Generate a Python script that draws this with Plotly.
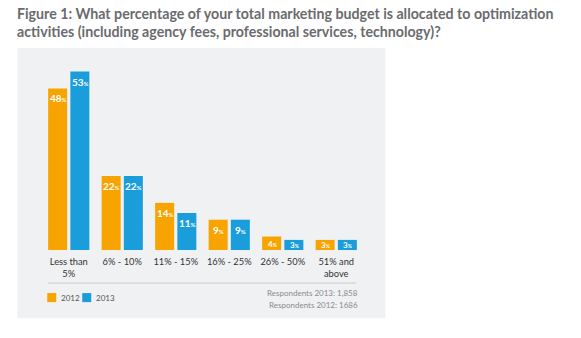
import plotly.graph_objects as go

categories = ["Less than<br>5%", "6% - 10%", "11% - 15%", "16% - 25%", "26% - 50%", "51% and<br>above"]
values_2012 = [48, 22, 14, 9, 4, 3]
values_2013 = [53, 22, 11, 9, 3, 3]
series_names = ["2012", "2013"]
colors = ["#F7A300", "#1A9EDB"]
respondents = ["Respondents 2013: 1,858", "Respondents 2012: 1686"]

W, H = 581, 338
L, R, T, B = 41.75, 218.25, 48.4, 88
pw, ph = W - L - R, H - T - B

def px(x):
    return (x - L) / pw

def py(y):
    return (H - B - y) / ph

def lbl(v, small):
    pct = 5 if small else 6
    return f"<b>{v}</b><span style='font-size:{pct}px'><b>%</b></span>"

fig = go.Figure()
for name, vals, col in zip(series_names, [values_2012, values_2013], colors):
    fig.add_trace(go.Bar(
        x=categories, y=vals, name=name, marker=dict(color=col, line=dict(width=0)),
        showlegend=False, hoverinfo="x+y",
    ))

# value labels inside bars (positioned via axis data coordinates)
offsets = [-11, 11]
for vals, dx in zip([values_2012, values_2013], offsets):
    for cat, v in zip(categories, vals):
        small = v < 5
        fig.add_annotation(
            x=cat, y=(v / 2 if small else v), xref="x", yref="y",
            xshift=dx + 0.5, yshift=(-0.5 if small else -10), showarrow=False,
            xanchor="center", yanchor="middle",
            text=lbl(v, small),
            font=dict(color="white", size=(8 if small else 10), family="Lato"),
        )

fig.update_layout(
    width=W, height=H,
    margin=dict(l=L, r=R, t=T, b=B, autoexpand=False),
    paper_bgcolor="white", plot_bgcolor="rgba(0,0,0,0)",
    barmode="group", bargap=0.17, bargroupgap=0.144,
    showlegend=False,
    font=dict(family="Lato"),
    xaxis=dict(showgrid=False, zeroline=False, showline=False, ticks="", ticklabelstandoff=5,
               tickfont=dict(size=9.3, color="#333", family="Lato")),
    yaxis=dict(range=[0, 60], visible=False, showgrid=False, zeroline=False),
)

# gray panel background
fig.add_shape(type="rect", xref="paper", yref="paper", x0=px(17), x1=px(385), y0=py(318), y1=py(48.5),
              fillcolor="#F0F1F3", line=dict(width=0), layer="below")
# separator line
fig.add_shape(type="line", xref="paper", yref="paper", x0=px(48), x1=px(356), y0=py(283), y1=py(283),
              line=dict(color="#C9CACC", width=1))

# legend (custom)
legend_x = [47, 82]
for name, col, lx in zip(series_names, colors, legend_x):
    fig.add_shape(type="rect", xref="paper", yref="paper", x0=px(lx), x1=px(lx + 9),
                  y0=py(302), y1=py(293), fillcolor=col, line=dict(width=0))
    fig.add_annotation(xref="paper", yref="paper", x=px(lx + 12), y=py(297.5), xanchor="left",
                       yanchor="middle", showarrow=False, text=name,
                       font=dict(size=8, color="#555", family="Lato"))

# title
fig.add_annotation(xref="paper", yref="paper", x=px(15), y=py(3), xanchor="left", yanchor="top",
                   align="left", showarrow=False,
                   text="<b>Figure 1: What percentage of your total marketing budget is allocated to optimization<br>activities (including agency fees, professional services, technology)?</b>",
                   font=dict(size=14.2, color="#6A6B6E", family="Lato"))
# respondents
for i, t in enumerate(respondents):
    fig.add_annotation(xref="paper", yref="paper", x=px(360), y=py(293 + 12 * i), xanchor="right",
                       yanchor="middle", align="right", showarrow=False, text=t,
                       font=dict(size=8, color="#8A8B8D", family="Lato"))

fig.write_html("out.html")
